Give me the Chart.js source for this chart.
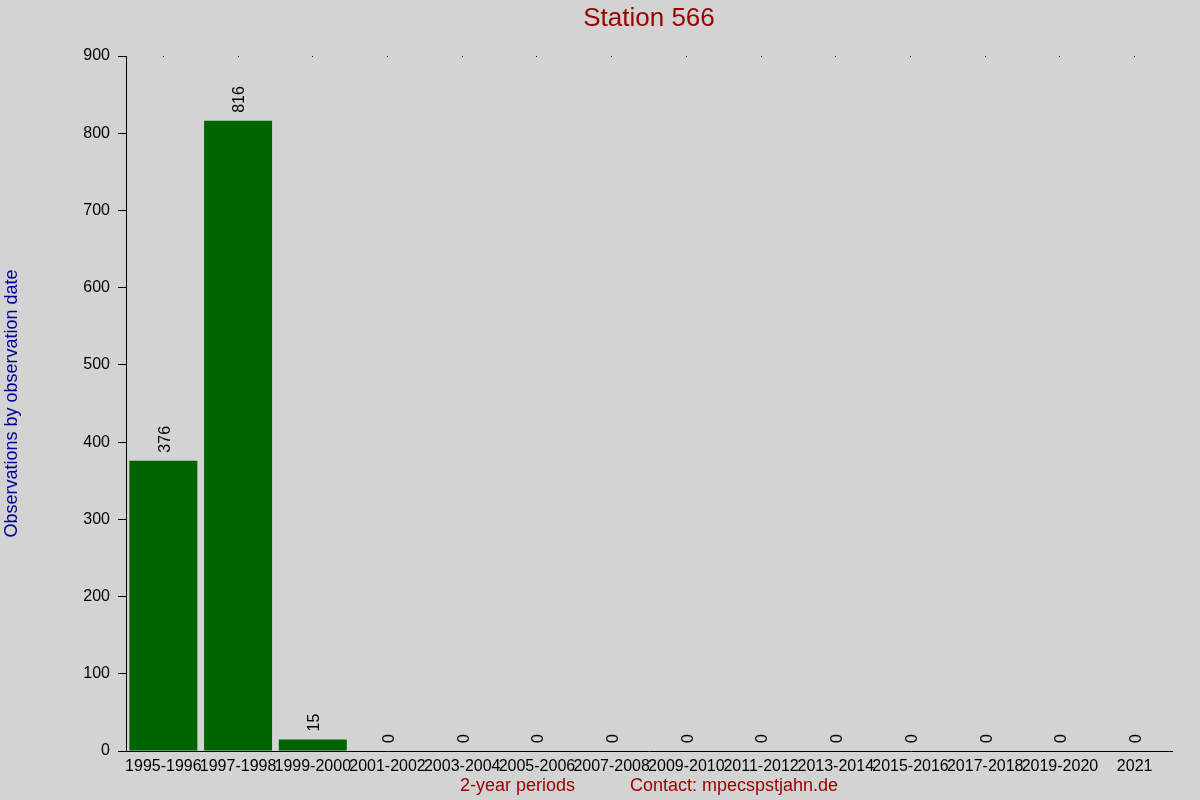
<!DOCTYPE html>
<html>
<head>
<meta charset="utf-8">
<title>Station 566</title>
<script src="https://cdn.jsdelivr.net/npm/chart.js@4.4.1/dist/chart.umd.min.js"></script>
<style>
  html, body { margin: 0; padding: 0; background: #d3d3d3; }
  canvas { display: block; }
</style>
</head>
<body>
<canvas id="myChart" width="1200" height="800"></canvas>
<script>
// chart data
var periods = ['1995-1996', '1997-1998', '1999-2000', '2001-2002', '2003-2004', '2005-2006', '2007-2008',
    '2009-2010', '2011-2012', '2013-2014', '2015-2016', '2017-2018', '2019-2020', '2021'];
var observations = [376, 816, 15, 0, 0, 0, 0, 0, 0, 0, 0, 0, 0, 0];
var yTicks = [0, 100, 200, 300, 400, 500, 600, 700, 800, 900];

var fontFamily = '"Liberation Sans", Arial, sans-serif';

// rotated value labels above the bars
var valueLabels = {
    id: 'valueLabels',
    afterDatasetsDraw: function (chart) {
        var ctx = chart.ctx;
        var meta = chart.getDatasetMeta(0);
        ctx.save();
        ctx.font = '16px ' + fontFamily;
        ctx.fillStyle = '#000';
        ctx.textAlign = 'left';
        ctx.textBaseline = 'middle';
        meta.data.forEach(function (bar, i) {
            ctx.save();
            ctx.translate(bar.x + 2, bar.y - 8);
            ctx.rotate(-Math.PI / 2);
            ctx.fillText(String(observations[i]), 0, 0);
            ctx.restore();
        });
        ctx.restore();
    }
};

// little dots on top of the plot at each category
var topDots = {
    id: 'topDots',
    afterDraw: function (chart) {
        var ctx = chart.ctx;
        var xs = chart.scales.x;
        ctx.save();
        ctx.fillStyle = '#000';
        for (var i = 0; i < periods.length; i++) {
            var x = Math.floor(xs.getPixelForValue(i));
            ctx.fillRect(x, Math.floor(chart.chartArea.top), 1, 1);
        }
        ctx.restore();
    }
};

var ctx = document.getElementById('myChart').getContext('2d');
var myChart = new Chart(ctx, {
    type: 'bar',
    data: {
        labels: periods,
        datasets: [{
            data: observations,
            backgroundColor: '#006400',
            borderWidth: 0,
            categoryPercentage: 1,
            barPercentage: 0.91
        }]
    },
    options: {
        responsive: false,
        animation: false,
        devicePixelRatio: 1,
        layout: {
            padding: { left: 0, right: 28, top: 0, bottom: 0 }
        },
        plugins: {
            legend: { display: false },
            tooltip: { enabled: false },
            title: {
                display: true,
                fullSize: false,
                text: 'Station 566',
                color: '#990000',
                font: { family: fontFamily, size: 26, weight: 'normal', lineHeight: 1.2 },
                padding: { top: 3, bottom: 21.8 }
            }
        },
        scales: {
            x: {
                afterFit: function (scale) { scale.height = 49; },
                border: { display: true, color: '#000', width: 1 },
                grid: { drawOnChartArea: false, drawTicks: false },
                ticks: {
                    autoSkip: false,
                    maxRotation: 0,
                    minRotation: 0,
                    padding: 6,
                    color: '#000',
                    font: { family: fontFamily, size: 16 }
                },
                title: {
                    display: true,
                    text: '2-year periods           Contact: mpecspstjahn.de',
                    color: '#990000',
                    font: { family: fontFamily, size: 18, lineHeight: 1.2 },
                    padding: { top: 0, bottom: 3 }
                }
            },
            y: {
                min: 0,
                max: 900,
                afterFit: function (scale) { scale.width = 126; },
                afterBuildTicks: function (scale) {
                    scale.ticks = yTicks.map(function (v) { return { value: v }; });
                },
                border: { display: true, color: '#000', width: 1 },
                grid: { drawOnChartArea: false, drawTicks: true, tickLength: 8, color: '#000' },
                ticks: {
                    padding: 8,
                    color: '#000',
                    font: { family: fontFamily, size: 16 }
                },
                title: {
                    display: true,
                    text: 'Observations by observation date',
                    color: '#000099',
                    font: { family: fontFamily, size: 18, lineHeight: 1.2 },
                    padding: { top: 1, bottom: 0 }
                }
            }
        }
    },
    plugins: [valueLabels, topDots]
});
</script>
</body>
</html>
